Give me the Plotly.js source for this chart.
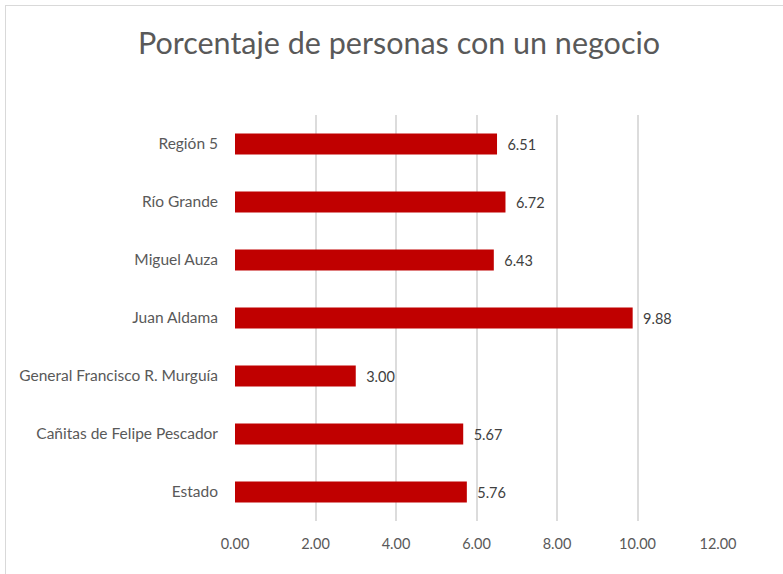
<!DOCTYPE html>
<html>
<head>
<meta charset="utf-8">
<script src="https://cdn.plot.ly/plotly-3.0.1.min.js"></script>
<style>
html,body{margin:0;padding:0;background:#fff;}
#frame{position:absolute;left:5px;top:5px;width:800px;height:600px;border-left:1px solid #d9d9d9;border-top:1px solid #d9d9d9;}
#chart{position:absolute;left:0;top:0;width:783px;height:574px;}
</style>
</head>
<body>
<div id="frame"></div>
<div id="chart"></div>
<script>
const categories = ["Región 5", "Río Grande", "Miguel Auza", "Juan Aldama", "General Francisco R. Murguía", "Cañitas de Felipe Pescador", "Estado"];
const values = [6.51, 6.72, 6.43, 9.88, 3.00, 5.67, 5.76];
const tickValues = [0, 2, 4, 6, 8, 10, 12];
const tickLabels = ["0.00", "2.00", "4.00", "6.00", "8.00", "10.00", "12.00"];
const chartTitle = "Porcentaje de personas con un negocio";

const fontFam = "Lato, 'Open Sans', sans-serif";
const trace = {
  type: "bar",
  orientation: "h",
  y: categories,
  x: values,
  width: 0.36,
  marker: {color: "#C00000"},
  text: values.map(v => "\u00a0\u00a0" + v.toFixed(2)),
  textposition: "outside",
  cliponaxis: false,
  textfont: {family: fontFam, size: 14.5, color: "#404040"},
  hoverinfo: "none"
};
const layout = {
  width: 783, height: 574,
  margin: {l: 235, r: 65, t: 115, b: 53},
  paper_bgcolor: "rgba(0,0,0,0)",
  plot_bgcolor: "rgba(0,0,0,0)",
  showlegend: false,
  title: {text: chartTitle, font: {family: fontFam, size: 30.5, color: "#595959"}, x: 0.5096, xanchor: "center", y: 0.925, yanchor: "middle"},
  xaxis: {
    range: [0, 12], tickvals: tickValues, ticktext: tickLabels,
    showgrid: true, gridcolor: "#dcdcdc", gridwidth: 2, zeroline: false,
    showline: false, ticks: "", ticklabelstandoff: 12,
    tickfont: {family: fontFam, size: 14.5, color: "#595959"}, fixedrange: true
  },
  yaxis: {
    type: "category", autorange: "reversed", range: [6.5, -0.5],
    showgrid: false, zeroline: false, showline: false, ticks: "",
    ticklabelstandoff: 16,
    tickfont: {family: fontFam, size: 15.5, color: "#595959"}, fixedrange: true
  }
};
Plotly.newPlot("chart", [trace], layout, {staticPlot: true, displayModeBar: false});
</script>
</body>
</html>
